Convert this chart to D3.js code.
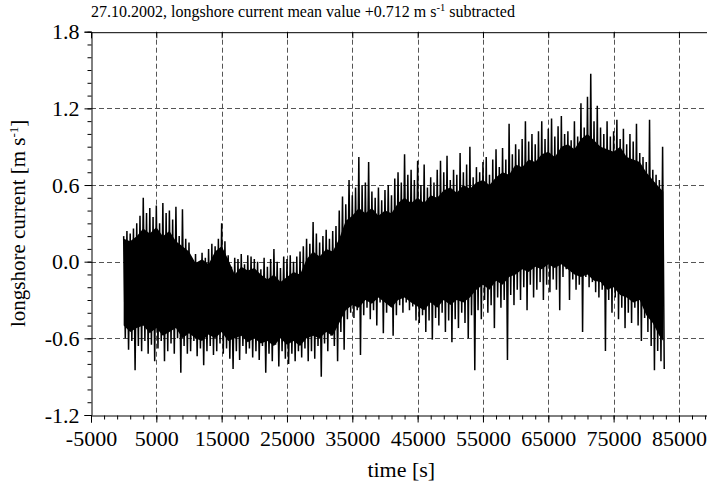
<!DOCTYPE html>
<html lang="en">
<head>
    <meta charset="UTF-8">
    <style>
        body { margin: 0; background: #fff; }
    </style>
</head>
<body>
    <script src="https://d3js.org/d3.v7.min.js"></script>
    <div id="here"></div>

    <script>
        // time axis of the envelope samples (s), one every 500 s
        const sampleStart = 0;
        const sampleStep = 500;

        // upper spike envelope (m/s)
        const upper = [
            0.20, 0.24, 0.22, 0.26, 0.30, 0.36, 0.50, 0.38, 0.42, 0.35,
            0.44, 0.30, 0.46, 0.38, 0.40, 0.33, 0.43, 0.20, 0.41, 0.18,
            0.15, 0.02, 0.06, -0.01, 0.07, 0.03, 0.10, 0.14, 0.12, 0.18,
            0.30, 0.16, 0.05, -0.04, 0.03, 0.02, 0.06, -0.02, 0.05, 0.04,
            0.02, 0.00, -0.06, 0.03, -0.04, 0.02, 0.10, 0.00, -0.05, 0.04,
            0.02, 0.05, 0.00, 0.04, 0.08, 0.12, 0.18, 0.14, 0.31, 0.22,
            0.15, 0.20, 0.25, 0.18, 0.24, 0.28, 0.40, 0.51, 0.45, 0.64,
            0.52, 0.58, 0.82, 0.60, 0.62, 0.78, 0.55, 0.50, 0.58, 0.48,
            0.56, 0.60, 0.52, 0.65, 0.70, 0.62, 0.84, 0.68, 0.72, 0.64,
            0.79, 0.60, 0.76, 0.58, 0.66, 0.62, 0.72, 0.79, 0.70, 0.83,
            0.64, 0.72, 0.68, 0.85, 0.70, 0.76, 0.90, 0.66, 0.74, 0.70,
            0.78, 0.82, 0.68, 0.80, 0.88, 0.74, 0.89, 0.80, 1.08, 0.84,
            0.92, 0.88, 0.96, 1.10, 0.94, 1.00, 0.92, 1.02, 1.10, 0.96,
            1.04, 1.12, 0.98, 1.06, 1.14, 1.00, 1.02, 0.95, 1.10, 0.98,
            1.24, 1.05, 1.29, 1.47, 1.10, 1.22, 1.05, 1.00, 1.10, 0.98,
            1.02, 1.11, 0.96, 1.04, 0.92, 1.00, 0.94, 1.08, 0.85, 0.82,
            0.78, 1.11, 0.72, 0.68, 0.64, 0.90
        ];

        // lower spike envelope (m/s)
        const lower = [
            -0.60, -0.69, -0.62, -0.85, -0.66, -0.70, -0.62, -0.72, -0.65, -0.78,
            -0.68, -0.62, -0.78, -0.70, -0.64, -0.72, -0.60, -0.87, -0.66, -0.72,
            -0.70, -0.62, -0.74, -0.68, -0.81, -0.70, -0.66, -0.73, -0.70, -0.64,
            -0.72, -0.68, -0.76, -0.84, -0.70, -0.77, -0.66, -0.72, -0.68, -0.75,
            -0.70, -0.77, -0.66, -0.87, -0.72, -0.78, -0.65, -0.82, -0.70, -0.76,
            -0.80, -0.72, -0.78, -0.70, -0.75, -0.68, -0.78, -0.70, -0.76, -0.66,
            -0.90, -0.64, -0.70, -0.58, -0.66, -0.78, -0.55, -0.69, -0.45, -0.40,
            -0.44, -0.38, -0.73, -0.42, -0.36, -0.45, -0.38, -0.50, -0.32, -0.56,
            -0.40, -0.30, -0.58, -0.42, -0.34, -0.40, -0.32, -0.38, -0.35, -0.46,
            -0.48, -0.42, -0.55, -0.46, -0.61, -0.44, -0.50, -0.40, -0.55, -0.46,
            -0.63, -0.45, -0.52, -0.40, -0.48, -0.60, -0.42, -0.85, -0.38, -0.45,
            -0.30, -0.40, -0.34, -0.52, -0.28, -0.36, -0.30, -0.77, -0.26, -0.34,
            -0.22, -0.30, -0.20, -0.38, -0.18, -0.28, -0.22, -0.16, -0.30, -0.18,
            -0.24, -0.14, -0.22, -0.38, -0.12, -0.06, -0.30, -0.14, -0.22, -0.18,
            -0.55, -0.12, -0.20, -0.16, -0.24, -0.28, -0.22, -0.70, -0.30, -0.40,
            -0.28, -0.45, -0.36, -0.52, -0.40, -0.48, -0.36, -0.50, -0.62, -0.44,
            -0.55, -0.66, -0.85, -0.70, -0.78, -0.84
        ];

        // solid core of the signal (where it is all black), one value every 1000 s
        const coreTimes = d3.range(0, 83000, 1000).concat([82600]);
        const coreUpper = [
            0.18, 0.16, 0.20, 0.26, 0.22, 0.27, 0.20, 0.24, 0.16, 0.12,
            0.08, -0.01, 0.02, -0.02, 0.08, 0.12, 0.02, -0.10, -0.04, -0.07,
            -0.05, -0.10, -0.14, -0.10, -0.16, -0.12, -0.08, -0.10, 0.02, 0.08,
            0.04, 0.10, 0.08, 0.18, 0.32, 0.36, 0.42, 0.38, 0.42, 0.36,
            0.40, 0.38, 0.46, 0.50, 0.46, 0.50, 0.46, 0.52, 0.50, 0.56,
            0.58, 0.54, 0.60, 0.57, 0.62, 0.64, 0.60, 0.66, 0.70, 0.68,
            0.76, 0.74, 0.80, 0.78, 0.84, 0.86, 0.82, 0.90, 0.92, 0.88,
            0.96, 1.00, 0.95, 0.90, 0.88, 0.86, 0.90, 0.82, 0.80, 0.78,
            0.70, 0.64, 0.58, 0.55
        ];
        const coreLower = [
            -0.50, -0.55, -0.52, -0.50, -0.56, -0.52, -0.58, -0.55, -0.52, -0.60,
            -0.56, -0.60, -0.62, -0.57, -0.60, -0.55, -0.62, -0.60, -0.58, -0.63,
            -0.60, -0.64, -0.62, -0.66, -0.60, -0.65, -0.62, -0.66, -0.60, -0.58,
            -0.60, -0.55, -0.58, -0.48, -0.38, -0.34, -0.36, -0.30, -0.33, -0.28,
            -0.32, -0.36, -0.30, -0.28, -0.32, -0.35, -0.38, -0.32, -0.36, -0.30,
            -0.34, -0.30, -0.32, -0.28, -0.22, -0.18, -0.22, -0.15, -0.18, -0.12,
            -0.10, -0.06, -0.08, -0.04, -0.06, -0.02, -0.05, -0.02, -0.06, -0.10,
            -0.12, -0.10, -0.15, -0.16, -0.22, -0.20, -0.26, -0.28, -0.32, -0.30,
            -0.42, -0.48, -0.58, -0.62
        ];

        const xTicks = [-5000, 5000, 15000, 25000, 35000, 45000, 55000, 65000, 75000, 85000];
        const yTicks = [-1.2, -0.6, 0.0, 0.6, 1.2, 1.8];

        const W = 707, H = 488;
        const margin = {top: 31.7, left: 91, bottom: 73};
        const serif = "'Liberation Serif', 'Times New Roman', Times, serif";

        const svg = d3.select("#here")
            .append("svg")
                .attr("width", W)
                .attr("height", H)
                .attr("font-family", serif);

        const x = d3.scaleLinear()
            .domain([-5000, 90000])
            .range([margin.left, 711.6]);

        const y = d3.scaleLinear()
            .domain([-1.2, 1.8])
            .range([H - margin.bottom, margin.top]);

        const x0 = x.range()[0], x1 = x.range()[1];
        const y0 = y.range()[0], y1 = y.range()[1];

        // dashed grid
        const grid = svg.append("g")
            .attr("stroke", "#555")
            .attr("stroke-width", 1)
            .attr("stroke-dasharray", "5,3");

        grid.selectAll("line.v")
            .data(xTicks.slice(1))
            .join("line")
                .attr("x1", d => Math.round(x(d)) + 0.5)
                .attr("x2", d => Math.round(x(d)) + 0.5)
                .attr("y1", y1)
                .attr("y2", y0);

        grid.selectAll("line.h")
            .data(yTicks.slice(1, -1))
            .join("line")
                .attr("x1", x0)
                .attr("x2", x1)
                .attr("y1", d => Math.round(y(d)) + 0.5)
                .attr("y2", d => Math.round(y(d)) + 0.5);

        // signal: solid core + min/max spikes
        const coreData = coreUpper.map((u, i) => ({t: coreTimes[i], u, l: coreLower[i]}));
        svg.append("path")
            .datum(coreData)
            .attr("fill", "#000")
            .attr("d", d3.area()
                .x(d => x(d.t))
                .y0(d => y(d.l))
                .y1(d => y(d.u)));

        const pts = [];
        upper.forEach((u, i) => {
            const t = sampleStart + i * sampleStep;
            pts.push([t, u]);
            pts.push([t + sampleStep / 2, lower[i]]);
        });

        svg.append("path")
            .datum(pts)
            .attr("fill", "none")
            .attr("stroke", "#000")
            .attr("stroke-width", 1.5)
            .attr("stroke-linejoin", "miter")
            .attr("d", d3.line()
                .x(d => x(d[0]))
                .y(d => y(d[1])));

        // axes
        const fontSize = 22;

        const leftAxis = svg.append("g")
            .attr("transform", `translate(${x0 + 0.5},0)`)
            .call(d3.axisLeft(y).tickValues(yTicks).tickSize(7).tickPadding(5).tickFormat(d => d.toFixed(1)));
        leftAxis.attr("font-family", serif).attr("font-size", fontSize);
        leftAxis.select(".domain").attr("stroke", "#000");
        leftAxis.selectAll("text").attr("fill", "#000");

        svg.append("g")
            .attr("transform", `translate(${x0 + 0.5},0)`)
            .call(d3.axisLeft(y).tickValues(d3.range(-12, 19).map(d => d / 10)).tickSize(4).tickFormat(""))
            .select(".domain").remove();

        const bottomAxis = svg.append("g")
            .attr("transform", `translate(0,${y0 + 0.5})`)
            .call(d3.axisBottom(x).tickValues(xTicks).tickSize(7).tickPadding(8).tickFormat(d => String(d)));
        bottomAxis.attr("font-family", serif).attr("font-size", fontSize);
        bottomAxis.select(".domain").attr("stroke", "#000");
        bottomAxis.selectAll("text").attr("fill", "#000");

        svg.append("g")
            .attr("transform", `translate(0,${y0 + 0.5})`)
            .call(d3.axisBottom(x).tickValues(d3.range(-5000, 90001, 2000)).tickSize(4).tickFormat(""))
            .select(".domain").remove();

        const topAxis = svg.append("g")
            .attr("transform", `translate(0,${y1 + 0.5})`)
            .call(d3.axisBottom(x).tickValues(xTicks).tickSize(6).tickFormat(""));
        topAxis.select(".domain").attr("stroke", "#000");

        // titles
        svg.append("text")
            .attr("x", 91)
            .attr("y", 17)
            .attr("font-size", 16)
            .html("27.10.2002, longshore current mean value +0.712 m s<tspan dy='-6' font-size='10.5'>-1</tspan><tspan dy='6'> subtracted</tspan>");

        svg.append("text")
            .attr("x", (x0 + x1) / 2)
            .attr("y", 477)
            .attr("text-anchor", "middle")
            .attr("font-size", fontSize)
            .text("time [s]");

        svg.append("text")
            .attr("transform", `translate(25,${(y0 + y1) / 2}) rotate(-90)`)
            .attr("text-anchor", "middle")
            .attr("font-size", 21)
            .html("longshore current [m s<tspan dy='-7' font-size='13'>-1</tspan><tspan dy='7'>]</tspan>");
    </script>
</body>
</html>
